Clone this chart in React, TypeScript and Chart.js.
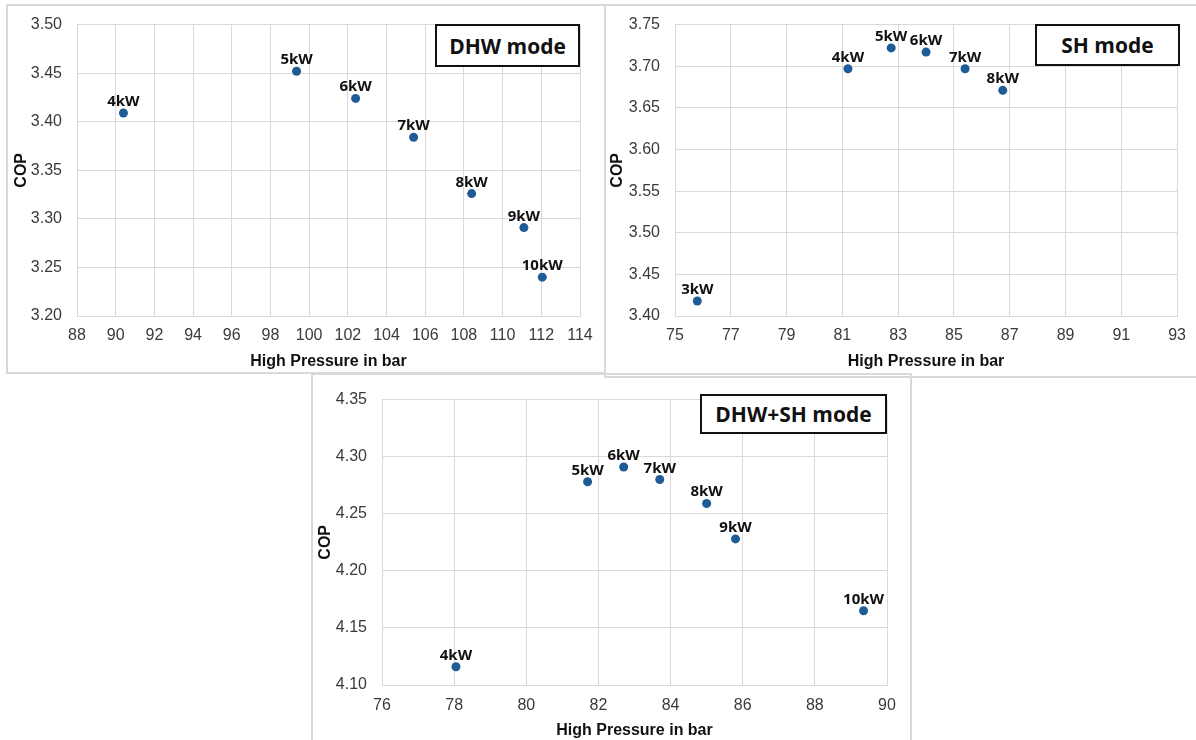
import React, { useEffect, useRef } from "react";
import { Chart, registerables } from "chart.js";

Chart.register(...registerables);

// ---- Data ----
const dhwLabels = ["4kW", "5kW", "6kW", "7kW", "8kW", "9kW", "10kW"];
const dhwPressure = [90.4, 99.35, 102.4, 105.4, 108.4, 111.1, 112.05];
const dhwCop = [3.409, 3.452, 3.424, 3.384, 3.326, 3.291, 3.24];

const shLabels = ["3kW", "4kW", "5kW", "6kW", "7kW", "8kW"];
const shPressure = [75.8, 81.2, 82.75, 84.0, 85.4, 86.75];
const shCop = [3.418, 3.697, 3.722, 3.717, 3.697, 3.671];

const comboLabels = ["4kW", "5kW", "6kW", "7kW", "8kW", "9kW", "10kW"];
const comboPressure = [78.05, 81.7, 82.7, 83.7, 85.0, 85.8, 89.35];
const comboCop = [4.116, 4.278, 4.291, 4.28, 4.259, 4.228, 4.165];

const xTitle = "High Pressure in bar";
const yTitle = "COP";

const TICK_FONT = "'Liberation Sans', Arial, sans-serif";
const LABEL_FONT = "'Open Sans', 'Liberation Sans', sans-serif";
const GRID = "#d9d9d9";
const DOT = "#1f5c96";

type PanelProps = {
  left: number;
  top: number;
  width: number;
  height: number;
  labels: string[];
  xs: number[];
  ys: number[];
  xMin: number;
  xMax: number;
  xStep: number;
  yMin: number;
  yMax: number;
  yStep: number;
  padTop: number;
  padRight: number;
  yAxisWidth: number;
  xAxisHeight: number;
  yTitlePad: number;
  xTitlePad: number;
  xTickPad: number;
};

function Panel(p: PanelProps) {
  const ref = useRef<HTMLCanvasElement | null>(null);
  useEffect(() => {
    if (!ref.current) return;
    const labels = p.labels;
    const labelPlugin = {
      id: "pointLabelsInline",
      afterDatasetsDraw(chart: any) {
        const ctx = chart.ctx;
        const meta = chart.getDatasetMeta(0);
        ctx.save();
        ctx.font = `bold 15px ${LABEL_FONT}`;
        ctx.fillStyle = "#111111";
        ctx.textAlign = "center";
        ctx.textBaseline = "alphabetic";
        meta.data.forEach((el: any, i: number) => {
          ctx.fillText(labels[i], el.x, el.y - 7);
        });
        ctx.restore();
      },
    };
    const chart = new Chart(ref.current, {
      type: "scatter",
      data: {
        datasets: [
          {
            data: p.xs.map((x, i) => ({ x, y: p.ys[i] })),
            backgroundColor: DOT,
            borderColor: DOT,
            borderWidth: 0,
            pointRadius: 4.5,
            pointHoverRadius: 4.5,
          },
        ],
      },
      options: {
        animation: false,
        responsive: false,
        maintainAspectRatio: false,
        devicePixelRatio: 1,
        layout: { padding: { left: 0, top: p.padTop, right: p.padRight, bottom: 0 } },
        plugins: {
          legend: { display: false },
          tooltip: { enabled: false },
        },
        scales: {
          x: {
            type: "linear",
            min: p.xMin,
            max: p.xMax,
            afterFit: (s: any) => {
              s.height = p.xAxisHeight;
            },
            ticks: {
              stepSize: p.xStep,
              padding: p.xTickPad,
              color: "#3a3a3a",
              font: { family: TICK_FONT, size: 16 },
              maxRotation: 0,
              autoSkip: false,
              callback: (v: any) => String(v),
            },
            grid: { color: GRID, lineWidth: 1, drawTicks: false },
            border: { color: GRID, width: 1 },
            title: {
              display: true,
              text: xTitle,
              color: "#111111",
              font: { family: TICK_FONT, size: 16, weight: "bold" },
              padding: { top: 0, bottom: p.xTitlePad },
            },
          },
          y: {
            type: "linear",
            min: p.yMin,
            max: p.yMax,
            afterFit: (s: any) => {
              s.width = p.yAxisWidth;
            },
            ticks: {
              stepSize: p.yStep,
              padding: 15,
              color: "#3a3a3a",
              font: { family: TICK_FONT, size: 16 },
              autoSkip: false,
              callback: (v: any) => Number(v).toFixed(2),
            },
            grid: { color: GRID, lineWidth: 1, drawTicks: false },
            border: { color: GRID, width: 1 },
            title: {
              display: true,
              text: yTitle,
              color: "#111111",
              font: { family: TICK_FONT, size: 16, weight: "bold" },
              padding: { top: p.yTitlePad, bottom: 0 },
            },
          },
        },
      },
      plugins: [labelPlugin],
    } as any);
    return () => chart.destroy();
  }, []);
  return (
    <canvas
      ref={ref}
      width={p.width}
      height={p.height}
      style={{
        position: "absolute",
        left: p.left,
        top: p.top,
        width: p.width,
        height: p.height,
      }}
    />
  );
}

function ModeBox(props: { left: number; top: number; width: number; height: number; text: string }) {
  return (
    <div
      style={{
        position: "absolute",
        left: props.left,
        top: props.top,
        width: props.width,
        height: props.height,
        boxSizing: "border-box",
        border: "2px solid #111",
        background: "#fff",
        display: "flex",
        alignItems: "center",
        justifyContent: "center",
        fontFamily: LABEL_FONT,
        fontWeight: 700,
        fontSize: 21,
        color: "#111",
      }}
    >
      {props.text}
    </div>
  );
}

function Frame(props: { left: number; top: number; width: number; height: number }) {
  return (
    <div
      style={{
        position: "absolute",
        left: props.left,
        top: props.top,
        width: props.width,
        height: props.height,
        boxSizing: "border-box",
        border: "2px solid #d9d9d9",
      }}
    />
  );
}

export default function App() {
  return (
    <div
      style={{
        position: "absolute",
        left: 0,
        top: 0,
        width: 1196,
        height: 740,
        overflow: "hidden",
        background: "#ffffff",
      }}
    >
      <Frame left={6} top={4} width={600} height={370} />
      <Frame left={604} top={4} width={600} height={374} />
      <Frame left={311} top={373} width={601} height={380} />

      <Panel
        left={7}
        top={0}
        width={598}
        height={373}
        labels={dhwLabels}
        xs={dhwPressure}
        ys={dhwCop}
        xMin={88}
        xMax={114}
        xStep={2}
        yMin={3.2}
        yMax={3.5}
        yStep={0.05}
        padTop={24}
        padRight={25}
        yAxisWidth={70}
        xAxisHeight={57}
        yTitlePad={5}
        xTitlePad={2}
        xTickPad={10}
      />
      <Panel
        left={605}
        top={0}
        width={591}
        height={377}
        labels={shLabels}
        xs={shPressure}
        ys={shCop}
        xMin={75}
        xMax={93}
        xStep={2}
        yMin={3.4}
        yMax={3.75}
        yStep={0.05}
        padTop={24}
        padRight={16}
        yAxisWidth={70}
        xAxisHeight={61}
        yTitlePad={3}
        xTitlePad={6}
        xTickPad={10}
      />
      <Panel
        left={313}
        top={375}
        width={598}
        height={365}
        labels={comboLabels}
        xs={comboPressure}
        ys={comboCop}
        xMin={76}
        xMax={90}
        xStep={2}
        yMin={4.1}
        yMax={4.35}
        yStep={0.05}
        padTop={18}
        padRight={24}
        yAxisWidth={69}
        xAxisHeight={55}
        yTitlePad={3}
        xTitlePad={0}
        xTickPad={11}
      />

      <ModeBox left={435} top={24} width={145} height={43} text="DHW mode" />
      <ModeBox left={1035} top={24} width={145} height={42} text="SH mode" />
      <ModeBox left={700} top={394} width={187} height={40} text="DHW+SH mode" />
    </div>
  );
}
